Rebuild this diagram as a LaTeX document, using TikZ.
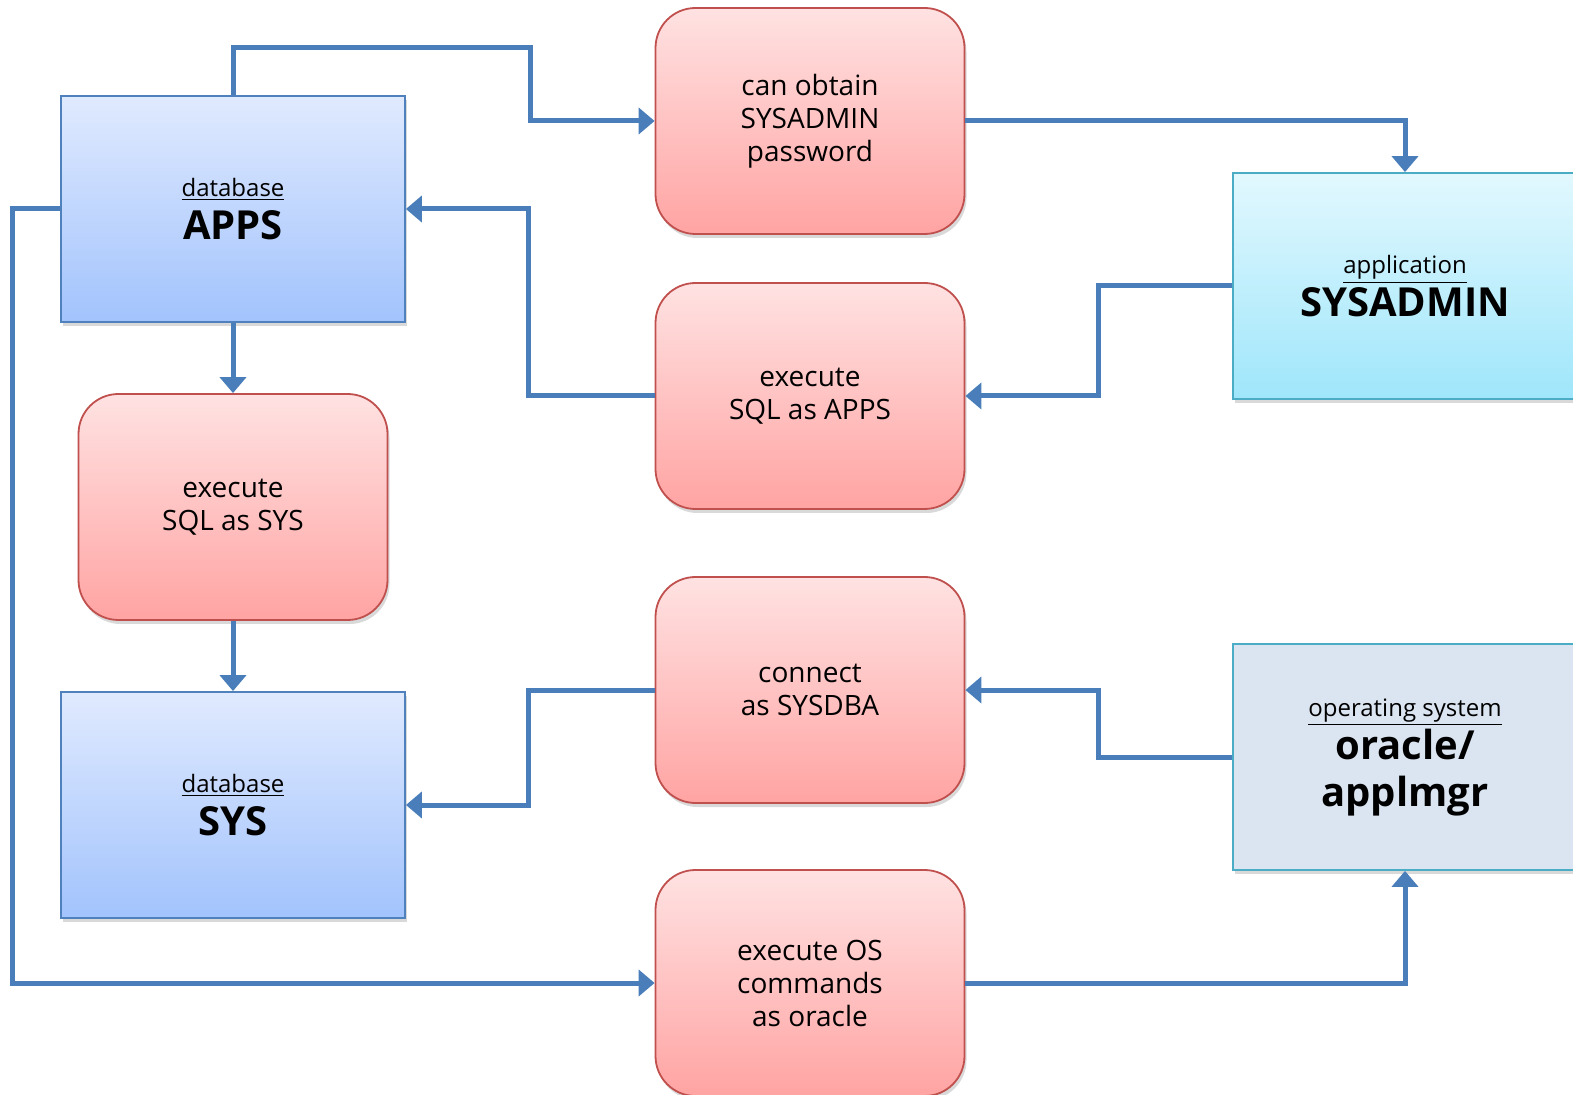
\documentclass[tikz,border=0pt]{standalone}
\usepackage{fontspec}
\setmainfont{Open Sans}
\usetikzlibrary{positioning, arrows.meta, shadows}

\definecolor{lnblue}{HTML}{4A7EBB}
\definecolor{dbtop}{HTML}{E0EAFE}
\definecolor{dbbot}{HTML}{A2C3FD}
\definecolor{dbline}{HTML}{4F81BD}
\definecolor{acttop}{HTML}{FFE2E2}
\definecolor{actbot}{HTML}{FFA4A3}
\definecolor{actline}{HTML}{C0504D}
\definecolor{apptop}{HTML}{E2F8FE}
\definecolor{appbot}{HTML}{9FE6FB}
\definecolor{osfill}{HTML}{DBE5F1}
\definecolor{osline}{HTML}{4BACC6}

\newcommand{\smalllbl}[1]{{\fontsize{12}{14}\selectfont\underline{#1}}}
\newcommand{\biglbl}[1]{{\bfseries #1}}

\begin{document}
\begin{tikzpicture}[x=0.5pt, y=-0.5pt,
    box/.style={line width=0.9pt, minimum width=172pt, minimum height=113pt,
        inner sep=0pt, align=center,
        font=\fontsize{20}{23.5}\selectfont,
        drop shadow={shadow xshift=1pt, shadow yshift=-2pt, opacity=0.3}},
    dbbox/.style={box, draw=dbline, top color=dbtop, bottom color=dbbot},
    appbox/.style={box, draw=osline, top color=apptop, bottom color=appbot},
    osbox/.style={box, draw=osline, fill=osfill},
    actbox/.style={box, draw=actline, top color=acttop, bottom color=actbot,
        minimum width=154.5pt, rounded corners=20pt,
        font=\fontsize{14}{16.5}\selectfont},
    conn/.style={draw=lnblue, line width=2.5pt,
        -{Triangle[length=8pt, width=13pt]}}
]
    \clip (0,0) rectangle (1573,1095);

    % database accounts
    \node[dbbox] (apps) at (233,209) {\smalllbl{database}\\[-2pt]\biglbl{APPS}};
    \node[dbbox] (sys) at (233,805) {\smalllbl{database}\\[-2pt]\biglbl{SYS}};

    % actions
    \node[actbox] (sqlsys) at (233,507) {execute\\SQL as SYS};
    \node[actbox] (obtain) at (810,121) {can obtain\\SYSADMIN\\password};
    \node[actbox] (sqlapps) at (810,396) {execute\\SQL as APPS};
    \node[actbox] (connect) at (810,690) {connect\\as SYSDBA};
    \node[actbox] (oscmd) at (810,983) {execute OS\\commands\\as oracle};

    % application and OS accounts
    \node[appbox] (sysadmin) at (1405,286) {\smalllbl{application}\\[-2pt]\biglbl{SYSADMIN}};
    \node[osbox] (oracle) at (1405,757) {\smalllbl{operating system}\\[-2pt]\biglbl{oracle/}\\\biglbl{applmgr}};

    % Connections
    \draw[conn] (apps.north) |- (530,48) |- (obtain.west);
    \draw[conn] (obtain.east) -| (sysadmin.north);
    \draw[conn] (sysadmin.west) -- ++(-134,0) |- (sqlapps.east);
    \draw[conn] (sqlapps.west) -- ++(-126,0) |- (apps.east);
    \draw[conn] (apps.south) -- (sqlsys.north);
    \draw[conn] (sqlsys.south) -- (sys.north);
    \draw[conn] (oracle.west) -- ++(-134,0) |- (connect.east);
    \draw[conn] (connect.west) -- ++(-126,0) |- (sys.east);
    \draw[conn] (apps.west) -- ++(-48,0) |- (oscmd.west);
    \draw[conn] (oscmd.east) -| (oracle.south);
\end{tikzpicture}
\end{document}
